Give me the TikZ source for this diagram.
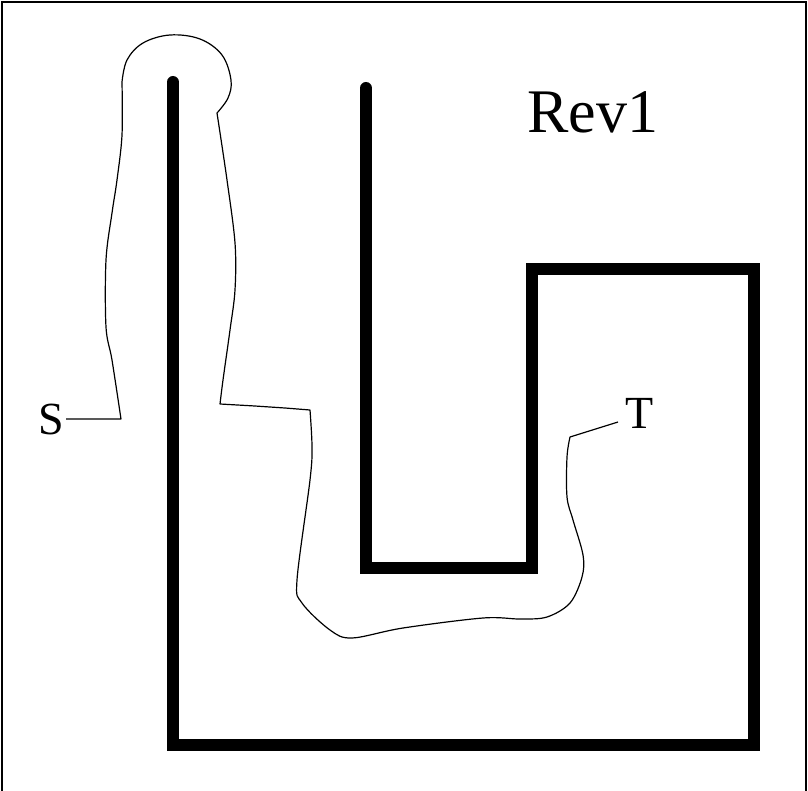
\documentclass[tikz,border=0pt]{standalone}
\usepackage{fontspec}
\setmainfont{Liberation Serif}
\usetikzlibrary{positioning}
\tikzset{
  wall/.style  ={draw=black,line width=6pt,line cap=round,line join=miter},
  route/.style ={draw=black,line width=0.6pt,line join=round},
  frame/.style ={draw=black,line width=1pt},
  lbl/.style   ={font=\fontsize{23}{23}\selectfont,inner sep=1pt},
  title/.style ={font=\fontsize{31}{31}\selectfont,inner sep=0pt},
}
\begin{document}
\begin{tikzpicture}[x=0.5pt,y=-0.5pt]
\useasboundingbox (0,0) rectangle (808,791);
% frame (bottom edge cut off)
\draw[frame] (2,791) -- (2,2) -- (806,2) -- (806,791);
% labels
\node[title,anchor=base] (rev) at (593,133) {Rev1};
\node[lbl,anchor=base] (s) at (51,434) {S};
\node[lbl,anchor=base] (t) at (640,428) {T};
% walls
\draw[wall] (173,82) -- (173,745) -- (754,745) -- (754,269) -- (532,269)
  -- (532,568) -- (366,568) -- (366,88);
% route from S to T
\draw[route] (s.east) -- (121,419)
  -- plot[smooth,tension=0.55] coordinates {(121,419) (112,360) (106,327) (106,260)
     (112,213) (117,180) (122,135) (122,82)}
  -- plot[smooth,tension=0.6] coordinates {(122,82) (127,60) (143,43) (170,35)
     (200,39) (222,55) (231,80) (228,98) (217,113)}
  -- plot[smooth,tension=0.55] coordinates {(217,113) (227,180) (235,243) (235,290)
     (230,330) (223,380) (220,404)}
  -- (255,406) -- (285,408) -- (310,410)
  -- plot[smooth,tension=0.55] coordinates {(310,410) (312,447) (310,480) (297,580)
     (302,603) (330,630) (352,638) (403,628) (483,618) (520,619) (547,617) (570,603)
     (582,577) (583,555) (573,520) (567,497) (567,457) (570,437)}
  -- (618,422);
\end{tikzpicture}
\end{document}
